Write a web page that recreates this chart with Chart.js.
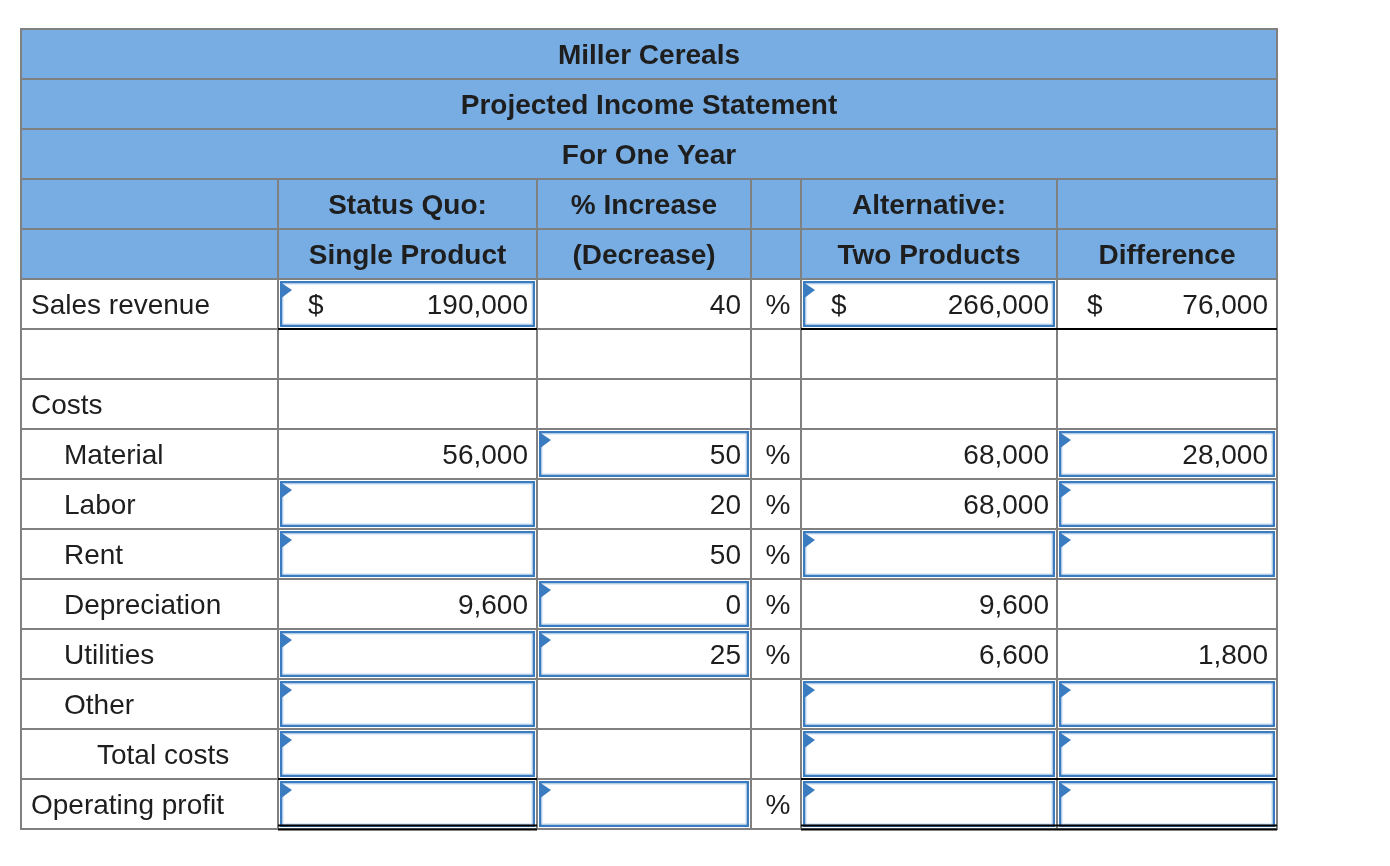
<!DOCTYPE html>
<html>
<head>
<meta charset="utf-8">
<title>Miller Cereals</title>
<script src="https://cdn.jsdelivr.net/npm/chart.js@4"></script>
<style>
  html, body { margin: 0; background: #fff; }
  #wrap { width: 1390px; height: 866px; }
</style>
</head>
<body>
<div id="wrap"><canvas id="sheet"></canvas></div>
<script>
// header texts
const titleLines = ['Miller Cereals', 'Projected Income Statement', 'For One Year'];
const headTop = ['', 'Status Quo:', '% Increase', '', 'Alternative:', ''];
const headBottom = ['', 'Single Product', '(Decrease)', '', 'Two Products', 'Difference'];

// body rows
const rowLabels = ['Sales revenue', '', 'Costs', 'Material', 'Labor', 'Rent', 'Depreciation', 'Utilities', 'Other', 'Total costs', 'Operating profit'];
const rowIndent = [0, 0, 0, 1, 1, 1, 1, 1, 1, 2, 0];
const statusQuo = [190000, null, null, 56000, null, null, 9600, null, null, null, null];
const pctChange = [40, null, null, 50, 20, 50, 0, 25, null, null, null];
const alternative = [266000, null, null, 68000, 68000, null, 9600, 6600, null, null, null];
const difference = [76000, null, null, 28000, null, null, null, 1800, null, null, null];
const pctSignRows = [0, 3, 4, 5, 6, 7, 10];
const dollarRows = [0];

// answer boxes (row indexes) for each column
const inputStatus = [0, 4, 5, 7, 8, 9, 10];
const inputPct = [3, 6, 7, 10];
const inputAlt = [0, 5, 8, 9, 10];
const inputDiff = [3, 4, 5, 8, 9, 10];

// column edges in table units (x scale)
const colEdges = [0, 257, 516, 730, 780, 1036, 1256];
const HEAD_ROWS = 5;
const TOTAL_ROWS = HEAD_ROWS + rowLabels.length;

const FONT = '"Liberation Sans", Arial, Helvetica, sans-serif';
const HEAD_BLUE = '#78ade3';
const GRID = '#808080';
const BOX_BLUE = '#3b7bc0';
const INK = '#1e1e1e';

const fmt = v => v.toLocaleString('en-US');

const tablePlugin = {
    id: 'incomeTable',
    afterDraw(chart) {
        const { ctx, scales: { x, y } } = chart;
        const X = i => x.getPixelForValue(colEdges[i]);
        const Y = r => y.getPixelForValue(r);
        const L = X(0), R = X(colEdges.length - 1);

        ctx.save();

        // header background
        ctx.fillStyle = HEAD_BLUE;
        ctx.fillRect(L, Y(0), R - L, Y(HEAD_ROWS) - Y(0));

        // grid
        ctx.strokeStyle = GRID;
        ctx.lineWidth = 2;
        ctx.beginPath();
        for (let r = 1; r < TOTAL_ROWS; r++) {
            ctx.moveTo(L, Y(r)); ctx.lineTo(R, Y(r));
        }
        for (let c = 1; c < colEdges.length - 1; c++) {
            ctx.moveTo(X(c), Y(3)); ctx.lineTo(X(c), Y(TOTAL_ROWS));
        }
        ctx.rect(L, Y(0), R - L, Y(TOTAL_ROWS) - Y(0));
        ctx.stroke();

        // answer boxes
        const drawBox = (c, r) => {
            const x0 = X(c), x1 = X(c + 1);
            const y0 = Y(HEAD_ROWS + r), y1 = Y(HEAD_ROWS + r + 1);
            ctx.fillStyle = '#fff';
            ctx.fillRect(x0 + 1, y0 + 1, x1 - x0 - 2, y1 - y0 - 2);
            ctx.strokeStyle = BOX_BLUE;
            ctx.lineWidth = 2.5;
            ctx.strokeRect(x0 + 3.25, y0 + 3.25, x1 - x0 - 6.5, y1 - y0 - 6.5);
            ctx.strokeStyle = '#c4d9f0';
            ctx.lineWidth = 1;
            ctx.strokeRect(x0 + 5, y0 + 5, x1 - x0 - 10, y1 - y0 - 10);
            ctx.fillStyle = BOX_BLUE;
            ctx.beginPath();
            ctx.moveTo(x0 + 2, y0 + 3);
            ctx.lineTo(x0 + 14, y0 + 11);
            ctx.lineTo(x0 + 2, y0 + 20);
            ctx.closePath();
            ctx.fill();
        };
        inputStatus.forEach(r => drawBox(1, r));
        inputPct.forEach(r => drawBox(2, r));
        inputAlt.forEach(r => drawBox(4, r));
        inputDiff.forEach(r => drawBox(5, r));

        // underlines
        ctx.strokeStyle = '#000';
        ctx.lineWidth = 2;
        ctx.beginPath();
        [1, 4, 5].forEach(c => {
            [0, 9].forEach(r => {
                const yy = Y(HEAD_ROWS + r + 1);
                ctx.moveTo(X(c), yy); ctx.lineTo(X(c + 1), yy);
            });
            const yb = Y(TOTAL_ROWS);
            ctx.moveTo(X(c), yb - 3.5); ctx.lineTo(X(c + 1), yb - 3.5);
            ctx.moveTo(X(c), yb + 0.5); ctx.lineTo(X(c + 1), yb + 0.5);
        });
        ctx.stroke();

        // header text
        ctx.fillStyle = INK;
        ctx.textBaseline = 'alphabetic';
        ctx.font = 'bold 28px ' + FONT;
        ctx.textAlign = 'center';
        titleLines.forEach((t, r) => ctx.fillText(t, (L + R) / 2, Y(r) + 35));
        [headTop, headBottom].forEach((row, k) => {
            row.forEach((t, c) => {
                if (t) ctx.fillText(t, (X(c) + X(c + 1)) / 2, Y(3 + k) + 35);
            });
        });

        // body text
        ctx.font = '28px ' + FONT;
        rowLabels.forEach((t, r) => {
            const by = Y(HEAD_ROWS + r) + 35;
            ctx.textAlign = 'left';
            ctx.fillText(t, L + 10 + rowIndent[r] * 33, by);

            if (dollarRows.includes(r)) {
                [1, 4, 5].forEach(c => ctx.fillText('$', X(c) + 30, by));
            }
            ctx.textAlign = 'right';
            if (statusQuo[r] !== null) ctx.fillText(fmt(statusQuo[r]), X(2) - 9, by);
            if (pctChange[r] !== null) ctx.fillText(fmt(pctChange[r]), X(3) - 10, by);
            if (alternative[r] !== null) ctx.fillText(fmt(alternative[r]), X(5) - 8, by);
            if (difference[r] !== null) ctx.fillText(fmt(difference[r]), X(6) - 9, by);
            if (pctSignRows.includes(r)) {
                ctx.textAlign = 'center';
                ctx.fillText('%', (X(3) + X(4)) / 2 + 2, by);
            }
        });

        ctx.restore();
    }
};

new Chart(document.getElementById('sheet'), {
    type: 'scatter',
    data: { datasets: [{ data: [] }] },
    options: {
        responsive: true,
        maintainAspectRatio: false,
        animation: false,
        layout: { padding: { left: 21, top: 29, right: 113, bottom: 37 } },
        plugins: { legend: { display: false }, tooltip: { enabled: false } },
        scales: {
            x: { type: 'linear', min: 0, max: colEdges[colEdges.length - 1], display: false },
            y: { type: 'linear', min: 0, max: TOTAL_ROWS, reverse: true, display: false }
        }
    },
    plugins: [tablePlugin]
});
</script>
</body>
</html>
